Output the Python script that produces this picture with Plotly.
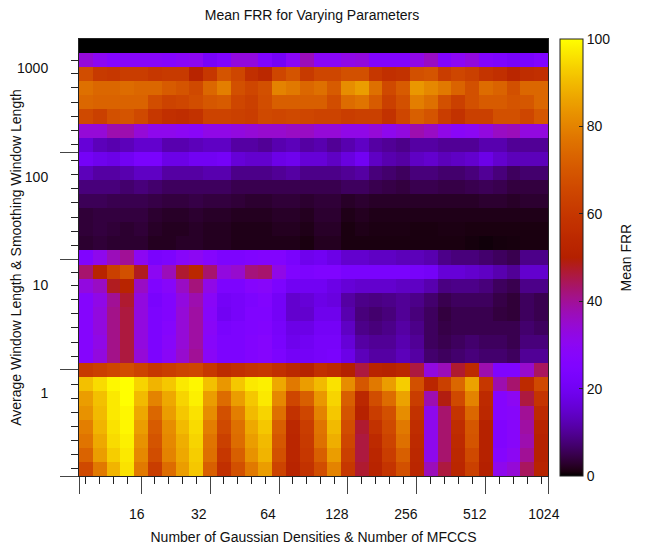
import plotly.graph_objects as go
import math

# Mean FRR, rows listed from bottom (row 0) to top (row 30); 34 columns each
row00 = [66,78,89,96,78,62,75,85,92,72,57,68,78,85,64,52,58,67,80,60,47,52,59,68,53,37,46,53,63,50,31,34,44,52]
row01 = [73,85,93,97,81,67,80,87,93,76,60,72,83,89,68,53,60,72,85,63,46,53,62,72,54,31,43,54,66,51,27,30,40,51]
row02 = [77,87,95,98,83,69,81,88,94,77,63,75,85,90,70,53,61,76,88,65,46,55,64,76,55,31,43,55,69,51,26,28,38,51]
row03 = [79,89,96,99,85,71,82,90,95,79,66,76,87,92,72,54,62,77,90,67,47,58,66,78,56,31,43,56,70,51,26,28,39,52]
row04 = [83,90,97,99,87,74,85,92,96,82,68,79,90,94,76,58,65,80,92,69,51,62,68,82,58,31,43,59,74,54,27,28,40,55]
row05 = [85,91,97,100,90,80,87,94,98,85,75,85,92,97,81,65,72,84,94,72,54,67,75,86,62,38,49,66,80,55,27,30,46,59]
row06 = [91,95,99,100,94,89,92,97,99,91,84,92,97,98,87,78,85,90,96,82,70,78,85,93,68,53,63,74,86,60,38,43,55,66]
row07 = [61,63,65,67,64,60,62,64,65,60,55,57,59,60,57,54,51,57,55,50,46,52,51,53,46,33,37,47,55,38,25,25,35,44]
row08 = [27,33,41,46,34,24,29,35,40,29,24,24,26,27,24,21,21,22,23,18,13,11,11,13,11,7,6,7,8,7,7,6,10,10]
row09 = [27,32,41,46,33,24,28,34,39,28,24,24,26,27,23,19,20,22,22,16,11,10,10,12,10,6,5,6,7,6,6,5,8,8]
row10 = [27,33,41,46,33,24,27,34,39,29,23,24,25,26,22,18,18,21,21,14,9,8,9,11,9,6,4.5,5,5,5,5,5,7,6]
row11 = [27,33,41,46,33,24,26,34,39,28,20,22,25,25,21,15,15,19,19,12,8,7,8,10,8,6,4,5,5,5,4,3.5,6,5]
row12 = [27,32,40,47,33,23,26,33,38,29,21,22,24,26,21,15,16,18,17,11,9,8.5,9,10,9,7,5,6,6,6,4.5,3.5,6,5]
row13 = [33,36,48,52,36,25,28,36,42,32,24,24,27,28,24,20,20,20,18,16,15,15,15,14,14,12,8.5,9,9,8,6,5,9,9]
row14 = [43,52,63,68,48,30,37,47,54,43,33,35,42,43,32,25,24,25,25,23,23,23,23,23,22,21,16,16,15,14,12,10,15,15]
row15 = [25,31,37,40,30,23,24,28,30,27,24,24,25,26,26,23,19,20,18,15,15,14,14,13,13,12,9,8,8,7,6,5,9,9]
row16 = [3,3.5,3,3,3,2,2,2.5,2.5,2,2,1.5,1.5,1.5,1.5,1.5,1,2,2,1,1,1,1,1,1,1,1,1,0.8,0.6,0.8,0.9,1,1]
row17 = [3.5,4,3.5,3,3.5,2.5,2,2,2.5,2,2,1.5,1.5,1.5,2,2,1.5,2.5,2.5,1,1.5,1.2,1.2,1.2,1,1,1.2,1.2,1,1,1,1,1,1]
row18 = [3.5,4,4,4,4,3,2.5,2.5,3,2.5,2.5,2,2,2,2.5,2.5,2,3,3,1.5,2,1.5,1.5,1.5,1.5,1.5,1.5,1.5,1.5,1.5,1.5,1.5,1.5,1.5]
row19 = [5.5,5.5,5,5,5,4.5,4,4,4.5,4,4,3.5,3,3,3.5,3.5,3,3.5,3.5,2.5,3,2.5,2.5,2.5,2.5,2.5,2.5,2.5,2.5,3,3,2.5,3,3]
row20 = [8,8,8,7,8,7,6,6,6,6,6,5,5,5,5,5,5,5,5,6,6,5,4.5,4,5,5,4.5,4.5,5,5.5,5,4,4,4]
row21 = [13,11,11,12,14,14,11,11,11,12,12,9,9,9,10,11,9,9,9,10,11,8,7,6,8,8,7,7,8,10,8,6,7,7]
row22 = [21,19,18,20,23,23,18,18,20,20,21,16,15,15,18,19,16,16,14,17,20,14,12,11,14,15,13,14,15,18,15,13,13,13]
row23 = [16,13,12,13,15,15,12,12,13,14,14,11,11,10,12,13,11,12,10,12,14,11,10,9,11,11,10,10,10,12,12,10,10,10]
row24 = [34,34,38,38,34,31,31,30,29,32,32,33,34,35,35,36,36,34,34,32,32,34,31,33,38,36,32,29,30,33,36,37,33,33]
row25 = [66,63,68,69,66,60,57,56,58,64,64,63,62,66,65,66,65,64,64,62,63,63,58,65,72,69,62,58,63,63,68,68,65,70]
row26 = [74,73,73,73,73,67,64,65,67,70,71,65,63,67,72,72,72,72,67,75,77,71,63,68,79,76,68,63,68,71,71,69,70,74]
row27 = [76,74,74,75,74,74,71,69,66,74,79,68,65,68,80,78,74,76,71,82,85,76,66,71,84,81,78,73,68,75,73,68,74,74]
row28 = [67,61,60,62,62,60,61,61,52,60,69,65,57,54,65,69,61,65,65,68,68,60,57,58,68,69,62,65,63,59,57,53,56,57]
row29 = [34,30,27,28,28,28,27,29,30,22,25,33,33,25,21,29,37,29,29,32,33,26,26,26,32,36,26,30,33,26,24,22,23,25]
row30 = [0]*34

z_rows = [row00,row01,row02,row03,row04,row05,row06,row07,row08,row09,row10,
          row11,row12,row13,row14,row15,row16,row17,row18,row19,row20,
          row21,row22,row23,row24,row25,row26,row27,row28,row29,row30]

# x axis ticks (column index)
x_long = [-0.5,4,9,14,19,24,29,33.5]
x_short = [0,1,2,3,5,6,7,8,10,11,12,13,15,16,17,18,20,21,22,23,25,26,27,28,30,31,32,33]
x_label_pos = [3.68,8.18,13.2,18.2,23.2,28.19,33.2]
x_labels = ["16","32","64","128","256","512","1024"]
# y axis ticks (row index)
y_long = [-0.5,7.02,14.85,22.47]
y_short = [0,1,2,3,4,5,6,7.97,9,10,11,12,12.98,13.97,15.84,16.83,17.83,18.87,19.86,20.86,21.85,23,24,24.99,26.03,27.03,28.02,29.01]
y_label_pos = [5.39,13.05,20.7,28.44]
y_labels = ["1","10","100","1000"]

# gnuplot default pm3d palette (rgbformulae 7,5,15)
stops = []
for i in range(101):
    t = i/100
    r = math.sqrt(t); g = t**3; b = max(0, math.sin(2*math.pi*t))
    stops.append([t, f"rgb({round(255*r)},{round(255*g)},{round(255*b)})"])

FONT = "Liberation Sans, Arial, Helvetica, sans-serif"
AX = "#222222"
XR = [-0.5, 33.5]
YR = [-0.5, 30.5]
PAGE = 8  # the page's body margin
TXT = 14

fig = go.Figure()
fig.add_trace(go.Heatmap(
    z=z_rows, zmin=0, zmax=100, colorscale=stops,
    colorbar=dict(
        x=(560-79)/469, xanchor="left", xpad=0, y=0, yanchor="bottom", ypad=0,
        lenmode="pixels", len=437, thicknessmode="pixels", thickness=23,
        outlinecolor=AX, outlinewidth=1, tickvals=[0,20,40,60,80,100],
        ticks="inside", ticklen=4, tickcolor=AX, tickfont=dict(size=TXT, color="#111"),
    ),
))
fig.add_trace(go.Scatter(x=[None], y=[None], xaxis="x2", yaxis="y2", showlegend=False, hoverinfo="skip"))

fig.update_layout(
    width=645-PAGE, height=552-PAGE, autosize=False,
    margin=dict(l=79-PAGE, r=97, t=39-PAGE, b=76),
    paper_bgcolor="white", plot_bgcolor="white",
    font=dict(family=FONT, color="#111"),
    title=dict(text="Mean FRR for Varying Parameters", x=(312-PAGE)/(645-PAGE), xanchor="center",
               y=1-(15-PAGE)/(552-PAGE), yanchor="middle", font=dict(size=TXT, color="#111")),
    annotations=[dict(text="Mean FRR", textangle=-90, xref="paper", yref="paper",
                      x=(625-79)/469, y=0.5, xanchor="center", yanchor="middle", showarrow=False,
                      font=dict(size=TXT, color="#111"))],
    xaxis=dict(
        automargin=False,
        range=XR, tickmode="array", tickvals=x_label_pos, ticktext=x_labels, tickangle=0,
        ticks="outside", ticklen=25, tickcolor="rgba(0,0,0,0)", tickfont=dict(size=TXT, color="#111"),
        showgrid=False, zeroline=False, showline=True, linecolor=AX, linewidth=1, mirror=True,
        title=dict(text="Number of Gaussian Densities & Number of MFCCS", standoff=11, font=dict(size=TXT, color="#111")),
        minor=dict(tickmode="array", tickvals=x_short, ticks="outside", ticklen=7, tickwidth=1, tickcolor=AX, showgrid=False),
    ),
    yaxis=dict(
        automargin=False,
        range=YR, tickmode="array", tickvals=y_label_pos, ticktext=y_labels,
        ticks="outside", ticklen=27, tickcolor="rgba(0,0,0,0)", tickfont=dict(size=TXT, color="#111"),
        showgrid=False, zeroline=False, showline=True, linecolor=AX, linewidth=1, mirror=True,
        title=dict(text="Average Window Length & Smoothing Window Length", standoff=1, font=dict(size=TXT, color="#111")),
        minor=dict(tickmode="array", tickvals=y_short, ticks="outside", ticklen=7, tickwidth=1, tickcolor=AX, showgrid=False),
    ),
    xaxis2=dict(
        automargin=False,
        range=XR, overlaying="x", anchor="y", side="bottom", tickmode="array", tickvals=x_long,
        ticktext=[""]*len(x_long), ticks="outside", ticklen=17, tickwidth=1, tickcolor="#444",
        showgrid=False, zeroline=False, showline=False,
    ),
    yaxis2=dict(
        automargin=False,
        range=YR, overlaying="y", anchor="x", side="left", tickmode="array", tickvals=y_long,
        ticktext=[""]*len(y_long), ticks="outside", ticklen=18, tickwidth=1, tickcolor="#444",
        showgrid=False, zeroline=False, showline=False,
    ),
)
fig.write_html("out.html")
